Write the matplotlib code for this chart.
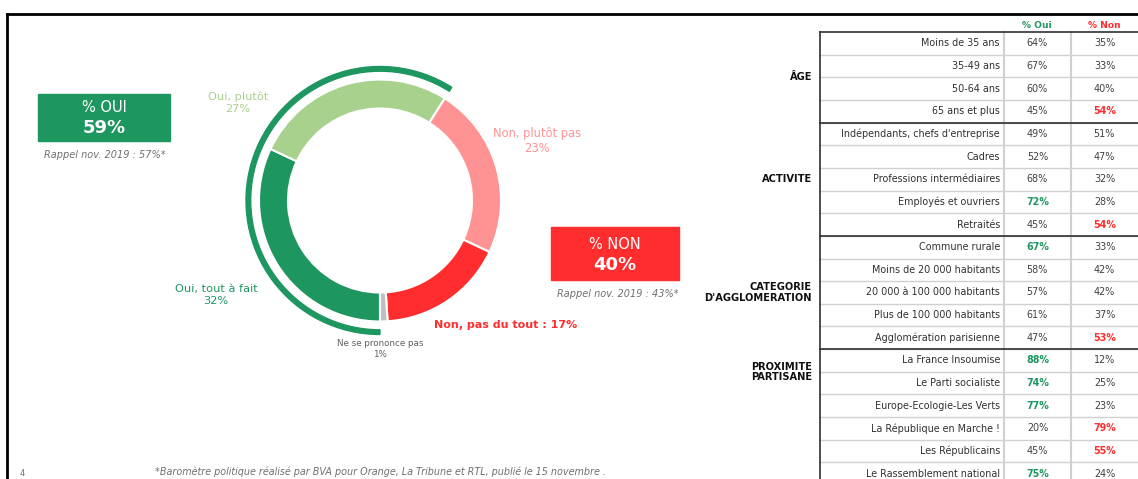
import matplotlib
matplotlib.use("Agg")
import matplotlib.pyplot as plt
from matplotlib.patches import Wedge, Rectangle

# donut data
answers = ["Oui, tout à fait", "Oui, plutôt", "Non, plutôt pas", "Non, pas du tout", "Ne se prononce pas"]
shares = [32, 27, 23, 17, 1]
oui_total = 59
non_total = 40
oui_2019 = 57
non_2019 = 43

# table data
groups = ["ÂGE", "ACTIVITE", "CATEGORIE\nD'AGGLOMERATION", "PROXIMITE\nPARTISANE"]
group_sizes = [4, 5, 5, 6]
rows = ["Moins de 35 ans", "35-49 ans", "50-64 ans", "65 ans et plus",
        "Indépendants, chefs d'entreprise", "Cadres", "Professions intermédiaires",
        "Employés et ouvriers", "Retraités",
        "Commune rurale", "Moins de 20 000 habitants", "20 000 à 100 000 habitants",
        "Plus de 100 000 habitants", "Agglomération parisienne",
        "La France Insoumise", "Le Parti socialiste", "Europe-Ecologie-Les Verts",
        "La République en Marche !", "Les Républicains", "Le Rassemblement national"]
pct_oui = [64, 67, 60, 45, 49, 52, 68, 72, 45, 67, 58, 57, 61, 47, 88, 74, 77, 20, 45, 75]
pct_non = [35, 33, 40, 54, 51, 47, 32, 28, 54, 33, 42, 42, 37, 53, 12, 25, 23, 79, 55, 24]
hi_oui = [False, False, False, False, False, False, False, True, False,
          True, False, False, False, False, True, True, True, False, False, True]
hi_non = [False, False, False, True, False, False, False, False, True,
          False, False, False, False, True, False, False, False, True, True, False]

GREEN = "#1e9660"
LIGHT = "#a9d18e"
PINK = "#ff9393"
RED = "#ff2d2d"
GREY = "#c0c0c0"

W, H = 1138, 479
fig = plt.figure(figsize=(W / 100, H / 100), dpi=100)

# donut (own axes, drawn below the text layer)
cx, cy, side = 380, 200.5, 300
pax = fig.add_axes([(cx - side / 2) / W, (H - cy - side / 2) / H, side / W, side / H])
pax.pie(shares, colors=[GREEN, LIGHT, PINK, RED, GREY], startangle=-90, counterclock=False,
        radius=1.21, wedgeprops=dict(width=0.29, edgecolor="white", linewidth=1.5))
end = -90 - 360 * oui_total / 100
pax.add_patch(Wedge((0, 0), 1.34, end % 360, 270, width=0.047, color=GREEN))
pax.set_xlim(-1.5, 1.5)
pax.set_ylim(-1.5, 1.5)
pax.axis("off")
pax.patch.set_visible(False)

ax = fig.add_axes([0, 0, 1, 1])
ax.set_zorder(2)
ax.patch.set_visible(False)
ax.set_xlim(0, W)
ax.set_ylim(H, 0)
ax.axis("off")

# frame
ax.plot([7, W], [14, 14], color="black", lw=2)
ax.plot([7, 7], [14, H], color="black", lw=2)

# donut labels
ax.text(238, 103, f"{answers[1]}\n{shares[1]}%", color=LIGHT, ha="center", va="center",
        fontsize=8.2, linespacing=1.25)
ax.text(537, 141, f"{answers[2]}\n{shares[2]}%", color=PINK, ha="center", va="center",
        fontsize=8.3, linespacing=1.25)
ax.text(216, 295, f"{answers[0]}\n{shares[0]}%", color=GREEN, ha="center", va="center",
        fontsize=8.2, linespacing=1.25)
ax.text(434, 325, f"{answers[3]} : {shares[3]}%", color=RED, ha="left", va="center",
        fontsize=8, weight="bold")
ax.text(380, 349, f"{answers[4]}\n{shares[4]}%", color="#606060", ha="center", va="center",
        fontsize=6.3, linespacing=1.15)

# summary boxes
ax.add_patch(Rectangle((38, 94), 132, 47, color=GREEN))
ax.text(104, 107, "% OUI", color="white", ha="center", va="center", fontsize=10.5)
ax.text(104, 128, f"{oui_total}%", color="white", ha="center", va="center", fontsize=13, weight="bold")
ax.text(105, 155, f"Rappel nov. 2019 : {oui_2019}%*", color="#707070", ha="center", va="center",
        fontsize=7, style="italic")
ax.add_patch(Rectangle((551, 227), 128, 53, color=RED))
ax.text(615, 244, "% NON", color="white", ha="center", va="center", fontsize=10.5)
ax.text(615, 265, f"{non_total}%", color="white", ha="center", va="center", fontsize=13, weight="bold")
ax.text(618, 294, f"Rappel nov. 2019 : {non_2019}%*", color="#707070", ha="center", va="center",
        fontsize=7, style="italic")

ax.text(380, 472, "*Baromètre politique réalisé par BVA pour Orange, La Tribune et RTL, publié le 15 novembre .",
        color="#707070", ha="center", va="center", fontsize=6.9, style="italic")
ax.text(22, 473, "4", color="#707070", ha="center", va="center", fontsize=6)

# table
x0, x1, x2, x3 = 820, 1004, 1071, W
top, rh = 32, 22.65
ax.text(1037, 25, "% Oui", color=GREEN, ha="center", va="center", fontsize=6.6, weight="bold")
ax.text(1104, 25, "% Non", color=RED, ha="center", va="center", fontsize=6.6, weight="bold")
for i, label in enumerate(rows):
    yc = top + (i + 0.5) * rh
    ax.text(x1 - 4, yc, label, ha="right", va="center", fontsize=6.9, color="#303030")
    ax.text((x1 + x2) / 2, yc, f"{pct_oui[i]}%", ha="center", va="center", fontsize=6.9,
            color=GREEN if hi_oui[i] else "#404040", weight="bold" if hi_oui[i] else "normal")
    ax.text((x2 + x3) / 2, yc, f"{pct_non[i]}%", ha="center", va="center", fontsize=6.9,
            color=RED if hi_non[i] else "#404040", weight="bold" if hi_non[i] else "normal")
    ax.plot([x0, x3], [top + (i + 1) * rh] * 2, color="#d0d0d0", lw=1)

for x in (x1, x2):
    ax.plot([x, x], [top, H], color="#d0d0d0", lw=1.5)
ax.plot([x0, x3], [top, top], color="#303030", lw=1.2)
ax.plot([x0, x0], [top, H], color="#303030", lw=1.2)

start = 0
for g, n in zip(groups, group_sizes):
    yc = top + (start + n / 2) * rh
    if start + n < len(rows):
        ax.plot([x0, x3], [top + (start + n) * rh] * 2, color="#303030", lw=1.2)
    if n == 6:
        yc = top + (start + 1) * rh
    ax.text(812, yc, g, ha="right", va="center", fontsize=7.1, weight="bold",
            color="#101010", linespacing=1.05)
    start += n

fig.savefig("out.png", dpi=100)
